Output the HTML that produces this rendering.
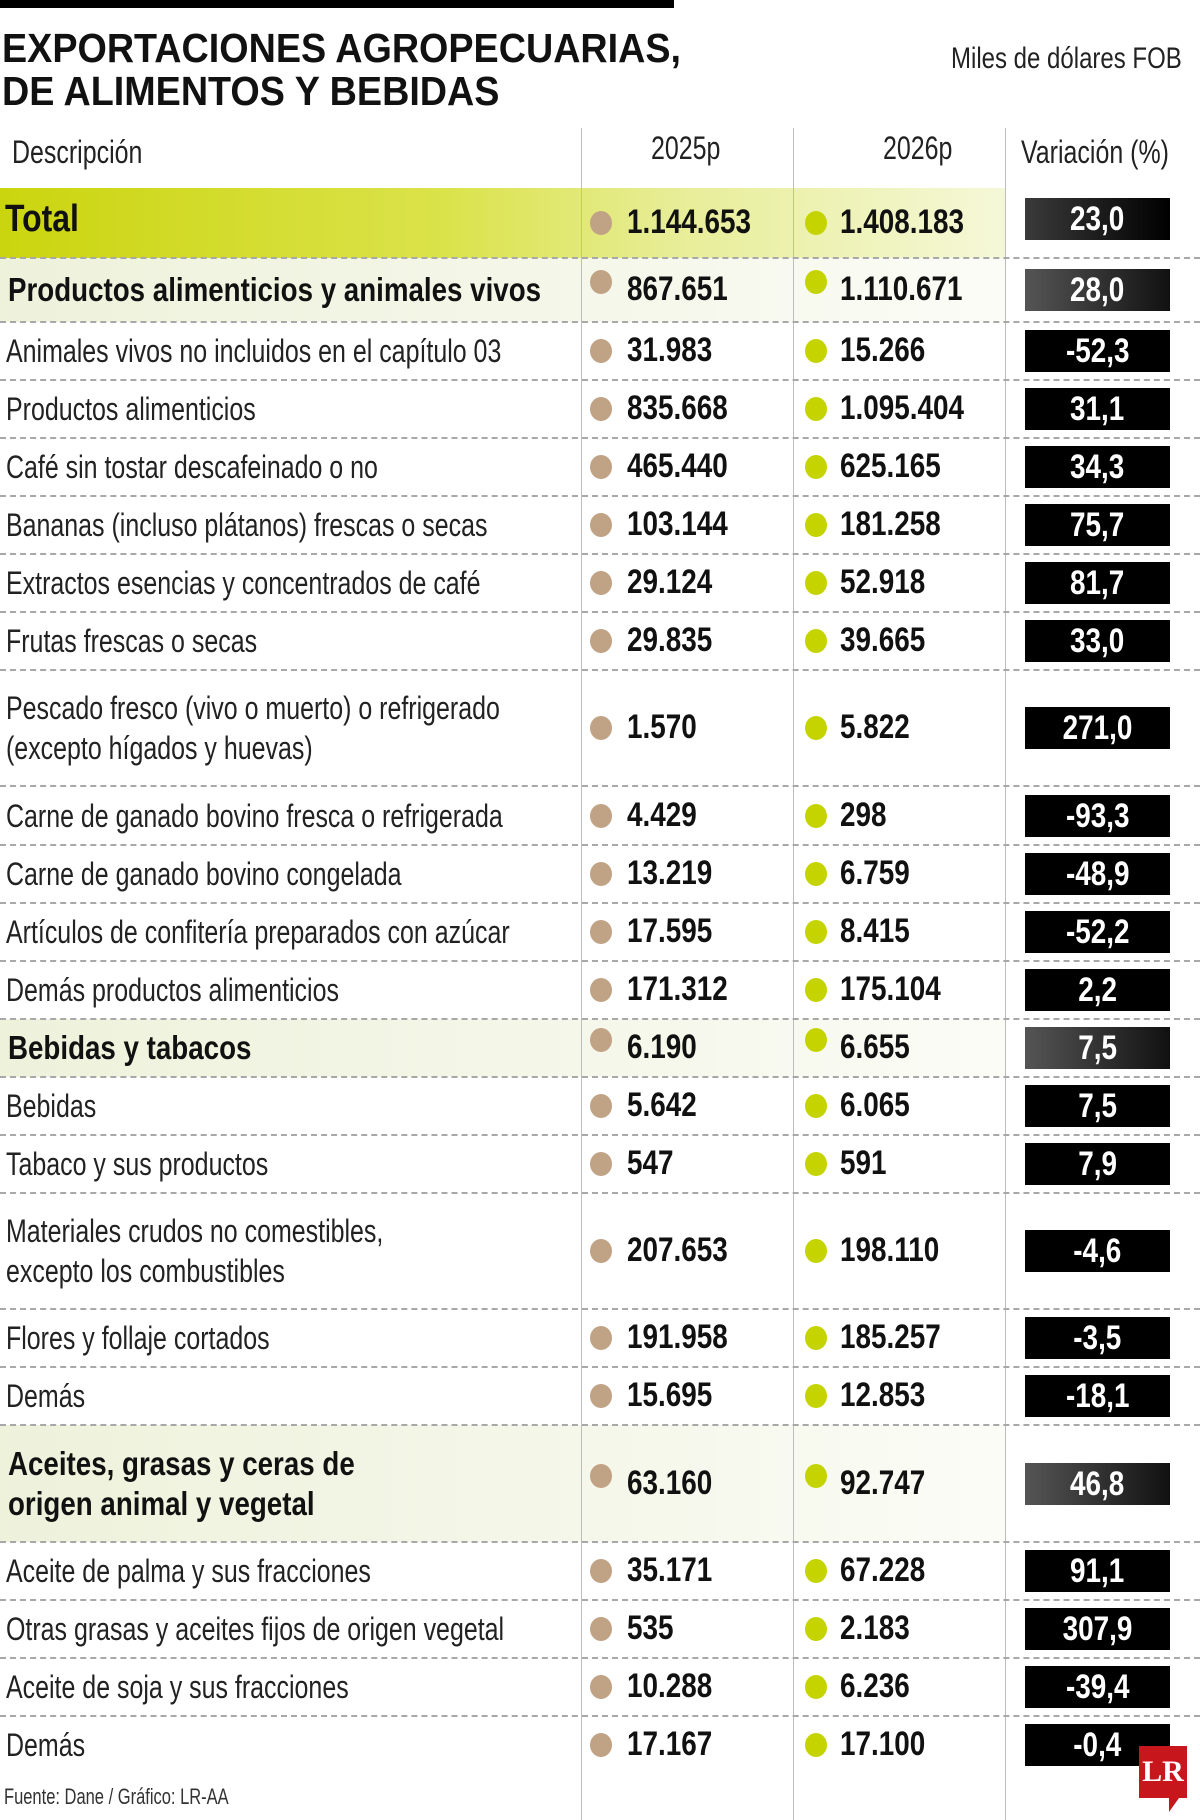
<!DOCTYPE html>
<html><head><meta charset="utf-8">
<style>
html,body{margin:0;padding:0;background:#fff;}
#root{position:relative;width:1200px;height:1820px;overflow:hidden;background:#fff;font-family:"Liberation Sans Narrow","Liberation Sans",sans-serif;color:#1a1a1a;}
.abs{position:absolute;}
.sx{transform-origin:0 50%;transform:scaleX(0.78);}
.desc{position:absolute;left:6px;font-size:32px;line-height:40px;white-space:nowrap;color:#222;transform-origin:0 50%;transform:scaleX(0.78);}
.desc.b{font-weight:bold;font-size:33px;left:8px;color:#111;transform:scaleX(0.84);}
.num{position:absolute;font-size:34px;font-weight:bold;line-height:40px;white-space:nowrap;color:#111;transform-origin:0 50%;transform:scaleX(0.82);}
.dot{position:absolute;width:22px;height:24px;border-radius:50%;}
.box{position:absolute;left:1025px;width:145px;height:42px;background:#000;color:#fff;text-align:center;line-height:42px;}
.box span{display:inline-block;font-size:34px;font-weight:bold;transform:scaleX(0.82);}
.dash{position:absolute;left:0;width:1200px;height:0;border-top:2px dashed #a8a8a8;}
.vline{position:absolute;top:128px;height:1692px;width:1px;background:#bdbdbd;}
</style></head>
<body>
<div id="root">
  <div class="abs" style="left:0;top:0;width:674px;height:8px;background:#000;"></div>
  <div class="abs" style="left:2px;top:27px;font-size:41px;font-weight:bold;line-height:43px;color:#111;transform-origin:0 0;transform:scaleX(0.92);white-space:nowrap;">EXPORTACIONES AGROPECUARIAS,<br>DE ALIMENTOS Y BEBIDAS</div>
  <div class="abs" style="left:951px;top:42px;font-size:30px;color:#222;white-space:nowrap;transform-origin:0 0;transform:scaleX(0.8);">Miles de dólares FOB</div>
  <div id="bands"></div>
  <div class="vline" style="left:581px"></div>
  <div class="vline" style="left:793px"></div>
  <div class="vline" style="left:1005px"></div>
  <div class="abs sx" style="left:12px;top:134px;font-size:32px;color:#222;white-space:nowrap;">Descripción</div>
  <div class="abs sx" style="left:651px;top:130px;font-size:32px;color:#222;white-space:nowrap;">2025p</div>
  <div class="abs sx" style="left:883px;top:130px;font-size:32px;color:#222;white-space:nowrap;">2026p</div>
  <div class="abs sx" style="left:1021px;top:134px;font-size:32px;color:#222;white-space:nowrap;">Variación (%)</div>
  <div id="rows"></div>
  <div class="abs" style="left:4px;top:1784px;font-size:22px;color:#333;white-space:nowrap;transform-origin:0 0;transform:scaleX(0.75);">Fuente: Dane / Gráfico: LR-AA</div>
  <div class="abs" style="left:1139px;top:1746px;width:48px;height:52px;background:#c8161d;color:#fff;font-family:'Liberation Serif',serif;font-weight:bold;font-size:30px;text-align:center;line-height:52px;">LR</div>
  <div class="abs" style="left:1169px;top:1798px;width:0;height:0;border-left:10px solid #c8161d;border-bottom:14px solid transparent;"></div>
</div>
<script>
var descriptions=["Total","Productos alimenticios y animales vivos","Animales vivos no incluidos en el capítulo 03","Productos alimenticios","Café sin tostar descafeinado o no","Bananas (incluso plátanos) frescas o secas","Extractos esencias y concentrados de café","Frutas frescas o secas","Pescado fresco (vivo o muerto) o refrigerado|(excepto hígados y huevas)","Carne de ganado bovino fresca o refrigerada","Carne de ganado bovino congelada","Artículos de confitería preparados con azúcar","Demás productos alimenticios","Bebidas y tabacos","Bebidas","Tabaco y sus productos","Materiales crudos no comestibles,|excepto los combustibles","Flores y follaje cortados","Demás","Aceites, grasas y ceras de|origen animal y vegetal","Aceite de palma y sus fracciones","Otras grasas y aceites fijos de origen vegetal","Aceite de soja y sus fracciones","Demás"];
var values2025=["1.144.653","867.651","31.983","835.668","465.440","103.144","29.124","29.835","1.570","4.429","13.219","17.595","171.312","6.190","5.642","547","207.653","191.958","15.695","63.160","35.171","535","10.288","17.167"];
var values2026=["1.408.183","1.110.671","15.266","1.095.404","625.165","181.258","52.918","39.665","5.822","298","6.759","8.415","175.104","6.655","6.065","591","198.110","185.257","12.853","92.747","67.228","2.183","6.236","17.100"];
var variations=["23,0","28,0","-52,3","31,1","34,3","75,7","81,7","33,0","271,0","-93,3","-48,9","-52,2","2,2","7,5","7,5","7,9","-4,6","-3,5","-18,1","46,8","91,1","307,9","-39,4","-0,4"];
var rowTypes=["total","group","item","item","item","item","item","item","item","item","item","item","item","group","item","item","item","item","item","group","item","item","item","item"];
var bounds=[188,258,322,380,438,496,554,612,670,786,845,903,961,1019,1077,1135,1193,1309,1367,1425,1542,1600,1658,1716,1774];
(function(){
var rowsEl=document.getElementById('rows');
var bandsEl=document.getElementById('bands');
function slug(s){return s.toLowerCase().normalize('NFD').replace(/[\u0300-\u036f]/g,'').replace(/[^a-z0-9]+/g,'-').replace(/^-|-$/g,'').slice(0,40);}
for(var i=0;i<descriptions.length;i++){
  var rTop=bounds[i],rBot=bounds[i+1],rH=rBot-rTop,c=(rTop+rBot)/2;
  var t=rowTypes[i];
  var key=slug(descriptions[i].split('|')[0])+'-'+i;
  if(t==='total'||t==='group'){
    var bg=document.createElement('div');
    bg.className='abs';
    bg.style.left='0px';bg.style.top=rTop+'px';bg.style.height=rH+'px';bg.style.width='1005px';
    bg.style.background=t==='total'?'linear-gradient(to right,#cbd50e 0%,#dbe34c 45%,#e7ed96 67%,#f5f8d8 100%)':'linear-gradient(to right,#eef2db 0%,#f5f7ea 60%,#fbfcf6 100%)';
    
    
    bandsEl.appendChild(bg);
  }
  if(i>0){
    var d=document.createElement('div');
    d.className='dash';d.style.top=(rTop-1)+'px';
    
    
    rowsEl.appendChild(d);
  }
  var lines=descriptions[i].split('|');
  var de=document.createElement('div');
  de.className='desc'+(t!=='item'?' b':'');
  if(t==='total'){de.style.fontSize='38px';de.style.left='5px';}
  de.innerHTML=lines.join('<br>');
  de.style.top=(c-lines.length*20-(t==='total'?4:0))+'px';
  
  
  rowsEl.appendChild(de);
  var off=(t==='group')?-8:0;
  var d1=document.createElement('div');
  d1.className='dot';d1.style.background='#c0a285';d1.style.left='590px';d1.style.top=(c-12+off)+'px';
  
  
  rowsEl.appendChild(d1);
  var n1=document.createElement('div');
  n1.className='num';n1.textContent=values2025[i];n1.style.left='627px';n1.style.top=(c-21)+'px';
  
  
  rowsEl.appendChild(n1);
  var d2=document.createElement('div');
  d2.className='dot';d2.style.background='#c5d400';d2.style.left='805px';d2.style.top=(c-12+off)+'px';
  
  
  rowsEl.appendChild(d2);
  var n2=document.createElement('div');
  n2.className='num';n2.textContent=values2026[i];n2.style.left='840px';n2.style.top=(c-21)+'px';
  
  
  rowsEl.appendChild(n2);
  var b=document.createElement('div');
  b.className='box';
  var sp=document.createElement('span');sp.textContent=variations[i];b.appendChild(sp);
  b.style.top=(c-21-(t==='total'?4:0))+'px';
  if(t==='total'){b.style.background='linear-gradient(to right,#3a3a3a,#000)';}
  if(t==='group'){b.style.background='linear-gradient(to right,#555,#111)';}
  
  
  rowsEl.appendChild(b);
}
})();
</script>
</body></html>
